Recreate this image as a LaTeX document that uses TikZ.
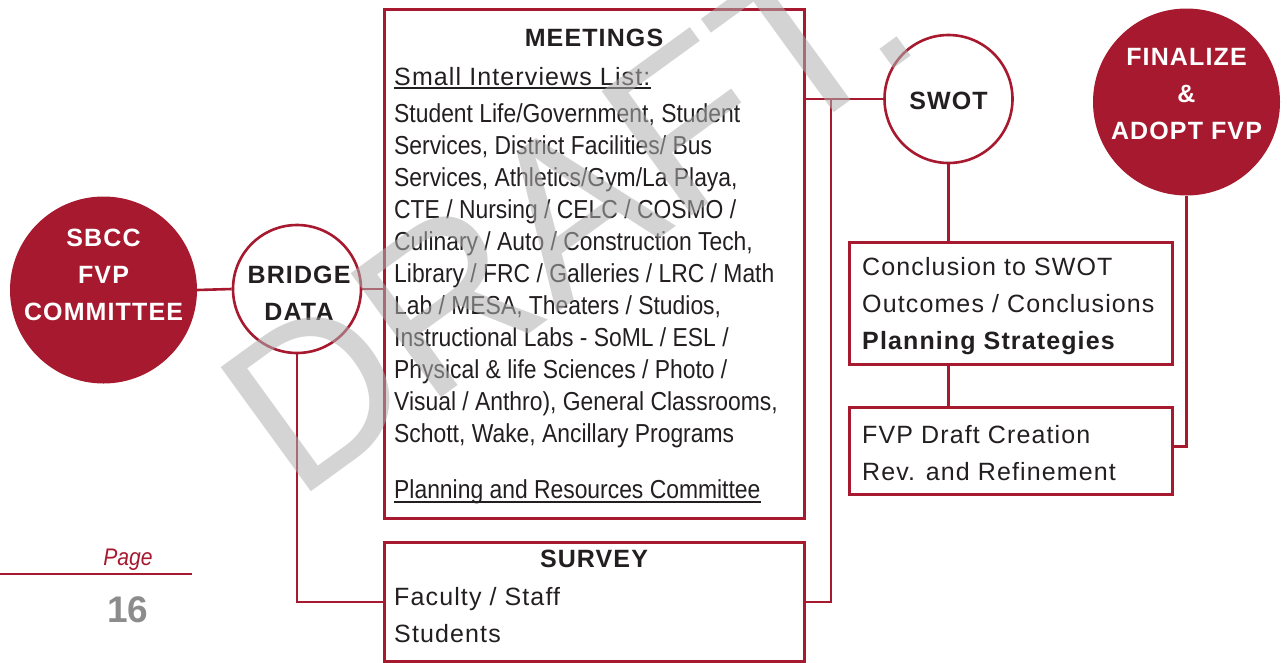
\documentclass[tikz,border=0pt]{standalone}
\usepackage{fontspec}
\setmainfont{Liberation Sans}
\newfontfamily\trk[LetterSpace=4.5]{Liberation Sans}
\newfontfamily\narrowf[FakeStretch=0.88]{Liberation Sans}
\newfontfamily\wmf{Liberation Sans}
\usetikzlibrary{calc}
\definecolor{sbred}{HTML}{A6192E}
\definecolor{ink}{HTML}{231F20}
\definecolor{numgray}{HTML}{8C8C8C}
\definecolor{wmgray}{gray}{0.69}
\begin{document}
\begin{tikzpicture}[x=1pt,y=-1pt,
  conn/.style={draw=sbred,line width=2.6pt},
  rbox/.style={draw=sbred,line width=2.6pt,fill=white,inner sep=0pt,anchor=north west},
  fcirc/.style={circle,fill=sbred,inner sep=0pt,minimum size=187pt},
  ocirc/.style={circle,draw=sbred,fill=white,line width=2.6pt,inner sep=0pt,minimum size=128pt},
  wlab/.style={text=white,font=\trk\bfseries\fontsize{25}{30}\selectfont,anchor=base,inner sep=0pt},
  blab/.style={text=ink,font=\trk\bfseries\fontsize{25}{30}\selectfont,anchor=base,inner sep=0pt},
  rtxt/.style={text=ink,font=\trk\fontsize{25}{30}\selectfont,anchor=base west,inner sep=0pt},
  btxt/.style={text=ink,font=\trk\bfseries\fontsize{25}{30}\selectfont,anchor=base west,inner sep=0pt},
  ntxt/.style={text=ink,font=\narrowf\fontsize{26}{32}\selectfont,anchor=base west,inner sep=0pt},
  uline/.style={draw=ink,line width=1.4pt},
  wmark/.style={text=wmgray,opacity=0.55,text opacity=0.55,font=\wmf\fontsize{223}{223}\selectfont,anchor=base west,inner sep=0pt,rotate=36},
]
\useasboundingbox (0,0) rectangle (1287,662);

% boxes and circles
\node[rbox,minimum width=420pt,minimum height=509pt] (meet) at (383,8) {};
\node[rbox,minimum width=420pt,minimum height=119pt] (survey) at (383,541) {};
\node[rbox,minimum width=323pt,minimum height=122pt] (concl) at (848,241) {};
\node[rbox,minimum width=323pt,minimum height=87pt] (draft) at (848,406) {};
\node[fcirc] (sbcc) at (103.5,290) {};
\node[ocirc] (bridge) at (297,289) {};
\node[ocirc] (swot) at (948.5,99) {};
\node[fcirc] (fin) at (1186.5,102) {};
\coordinate (junc) at (831,100);

% connectors
\draw[conn] (sbcc.east) -- (bridge.west);
\draw[conn] (bridge.east) -- (bridge.east -| meet.west);
\draw[conn] (bridge.south) |- (survey.west);
\draw[conn] (swot.west -| meet.east) -- (swot.west);
\draw[conn] (junc) |- (survey.east);
\draw[conn] (swot.south) -- (swot.south |- concl.north);
\draw[conn] (concl.south -| swot.south) -- (draft.north -| swot.south);
\draw[conn] (fin.south) |- ($(draft.east)+(0,-4.5)$);

% circle labels
\node[wlab] (sb1) at (103.5,246) {SBCC};
\node[wlab] (sb2) at (103.5,283) {FVP};
\node[wlab] (sb3) at (103.5,320) {COMMITTEE};
\node[blab] (br1) at (299,283) {BRIDGE};
\node[blab] (br2) at (299,320) {DATA};
\node[blab] (sw1) at (948.5,109) {SWOT};
\node[wlab] (fi1) at (1186.5,65) {FINALIZE};
\node[wlab] (fi2) at (1186.5,102) {\&};
\node[wlab] (fi3) at (1186.5,139) {ADOPT FVP};

% meetings box
\node[blab] (mtitle) at (594,46) {MEETINGS};
\node[rtxt] (sil) at (394,85) {Small Interviews List:};
\draw[uline] ($(sil.base west)+(0,3)$) -- ($(sil.base east)+(0,3)$);
\foreach \txt [count=\i] in {{Student Life/Government, Student},{Services, District Facilities/ Bus},{Services, Athletics/Gym/La Playa,},{CTE / Nursing / CELC / COSMO /},{Culinary / Auto / Construction Tech,},{Library / FRC / Galleries / LRC / Math},{Lab / MESA, Theaters / Studios,},{Instructional Labs - SoML / ESL /},{Physical \& life Sciences / Photo /},{Visual / Anthro), General Classrooms,},{Schott, Wake, Ancillary Programs}}
  \node[ntxt] (ml\i) at (394,{122+32*(\i-1)}) {\txt};
\node[ntxt] (prc) at (394,498) {Planning and Resources Committee};
\draw[uline] ($(prc.base west)+(0,4)$) -- ($(prc.base east)+(0,4)$);

% survey box
\node[blab] (stitle) at (594,567) {SURVEY};
\node[rtxt] (sv1) at (394,605) {Faculty / Staff};
\node[rtxt] (sv2) at (394,642) {Students};

% conclusion box
\node[rtxt] (c1) at (862,275) {Conclusion to SWOT};
\node[rtxt] (c2) at (862,312) {Outcomes / Conclusions};
\node[btxt] (c3) at (862,349) {Planning Strategies};

% draft box
\node[rtxt] (d1) at (862,443) {FVP Draft Creation};
\node[rtxt] (d2) at (862,480) {Rev. and Refinement};

% page marker
\draw[draw=sbred,line width=2.4pt] (0,574) coordinate (pl) -- (192,574) coordinate (pr);
\node[text=sbred,font=\narrowf\itshape\fontsize{24}{28}\selectfont,anchor=base,inner sep=0pt] (page) at (128,565) {Page};
\node[text=numgray,font=\bfseries\fontsize{37}{40}\selectfont,anchor=base,inner sep=0pt] (pnum) at (128,622) {16};

% watermark
\begin{scope}
\clip (0,0) rectangle (1287,662);
\node[wmark] (wm) at (296,503) {DRAFT.};
\end{scope}
\end{tikzpicture}
\end{document}
